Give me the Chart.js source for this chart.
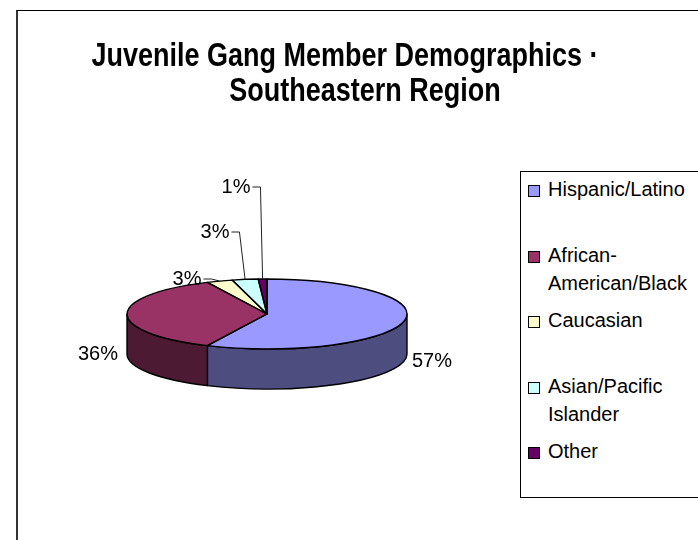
<!DOCTYPE html>
<html>
<head>
<meta charset="utf-8">
<script src="https://cdn.jsdelivr.net/npm/chart.js@4.4.1/dist/chart.umd.min.js"></script>
<style>
  body { margin: 0; background: #fff; font-family: "Liberation Sans", Arial, sans-serif; }
  #wrap { position: relative; width: 698px; height: 540px; overflow: hidden; }
  #frame { position: absolute; left: 16px; top: 10px; width: 800px; height: 600px; border-left: 2px solid #333; border-top: 1px solid #000; }
  canvas { position: absolute; left: 0; top: 0; }
  .title { position: absolute; left: 0; font-weight: bold; font-size: 27px; line-height: 30px; text-align: center; white-space: nowrap; transform: scaleY(1.2); transform-origin: 50% 24px; color: #000; }
  #legend { position: absolute; left: 520px; top: 171px; width: 220px; height: 327px; border: 1px solid #000; background: #fff; padding-top: 3px; box-sizing: border-box; }
  .item { position: relative; height: 65.5px; }
  .swatch { position: absolute; left: 7px; top: 10px; width: 10px; height: 10px; border: 1px solid #000; }
  .text { position: absolute; left: 27px; top: 0; width: 152px; font-size: 20px; line-height: 28px; color: #000; }
</style>
</head>
<body>
<div id="wrap">
  <div id="frame"></div>
  <canvas id="pie" width="698" height="540"></canvas>
  <div class="title" id="t1" style="top:42px; width:690px;"></div>
  <div class="title" id="t2" style="top:77px; width:730px;"></div>
  <div id="legend"></div>
</div>
<script>
const titleLines = ["Juvenile Gang Member Demographics \u00b7", "Southeastern Region"];
const labels = ["Hispanic/Latino", "African-American/Black", "Caucasian", "Asian/Pacific Islander", "Other"];
const shares = [57, 36, 3, 3, 1];
const colors = ["#9999FF", "#993366", "#FFFFCC", "#CCFFFF", "#660066"];

document.getElementById("t1").textContent = titleLines[0];
document.getElementById("t2").textContent = titleLines[1];

// html legend, same look as the excel one
const legendBox = document.getElementById("legend");
labels.forEach((name, i) => {
  const item = document.createElement("div");
  item.className = "item";
  item.innerHTML = '<div class="swatch" style="background:' + colors[i] + '"></div><div class="text"></div>';
  item.querySelector(".text").textContent = name;
  legendBox.appendChild(item);
});

const squash = 0.25;   // ellipse height / width
const depth = 40;      // thickness of the pie
// small slices get their label moved out with a leader line
const leaderSpots = { 2: [187, 279], 3: [215, 232], 4: [236, 187] };

function shade(hex, f) {
  const n = parseInt(hex.slice(1), 16);
  const r = Math.round(((n >> 16) & 255) * f);
  const g = Math.round(((n >> 8) & 255) * f);
  const b = Math.round((n & 255) * f);
  return "rgb(" + r + "," + g + "," + b + ")";
}

const pie3d = {
  id: "pie3d",
  beforeDatasetsDraw(chart) {
    const ctx = chart.ctx;
    const arcs = chart.getDatasetMeta(0).data;
    const cx = arcs[0].x, cy = arcs[0].y;
    const rx = arcs[0].outerRadius, ry = rx * squash;

    ctx.save();
    ctx.lineJoin = "round";
    ctx.strokeStyle = "#000";
    ctx.lineWidth = 1.4;

    // front rim
    arcs.forEach((arc, i) => {
      const a1 = Math.max(arc.startAngle, 0);
      const a2 = Math.min(arc.endAngle, Math.PI);
      if (a2 <= a1) return;
      ctx.beginPath();
      ctx.ellipse(cx, cy, rx, ry, 0, a1, a2);
      ctx.lineTo(cx + rx * Math.cos(a2), cy + depth + ry * Math.sin(a2));
      ctx.ellipse(cx, cy + depth, rx, ry, 0, a2, a1, true);
      ctx.closePath();
      ctx.fillStyle = shade(colors[i], 0.5);
      ctx.fill();
      ctx.stroke();
    });

    // top faces: let chart.js fill its arcs, squashed
    arcs.forEach(arc => {
      ctx.save();
      ctx.translate(cx, cy);
      ctx.scale(1, squash);
      ctx.translate(-cx, -cy);
      arc.draw(ctx);
      ctx.restore();
    });
    arcs.forEach(arc => {
      ctx.beginPath();
      ctx.moveTo(cx, cy);
      ctx.ellipse(cx, cy, rx, ry, 0, arc.startAngle, arc.endAngle);
      ctx.closePath();
      ctx.stroke();
    });

    // percent labels
    ctx.font = '20px "Liberation Sans", Arial, sans-serif';
    ctx.fillStyle = "#000";
    ctx.textAlign = "center";
    ctx.textBaseline = "middle";
    ctx.lineWidth = 1;
    ctx.strokeStyle = "#222";
    arcs.forEach((arc, i) => {
      const m = (arc.startAngle + arc.endAngle) / 2;
      const txt = shares[i] + "%";
      const spot = leaderSpots[i];
      if (spot) {
        const w = ctx.measureText(txt).width;
        const right = spot[0] + w / 2;
        ctx.fillText(txt, spot[0], spot[1]);
        ctx.beginPath();
        ctx.moveTo(right + 2, spot[1]);
        ctx.lineTo(right + 10, spot[1]);
        ctx.lineTo(cx + rx * Math.cos(m), cy + ry * Math.sin(m));
        ctx.stroke();
      } else {
        ctx.fillText(txt, cx + (rx + 29) * Math.cos(m), cy + ry * Math.sin(m) + depth);
      }
    });

    ctx.restore();
    return false;
  }
};

new Chart(document.getElementById("pie"), {
  type: "pie",
  data: {
    labels: labels,
    datasets: [{ data: shares, backgroundColor: colors, borderWidth: 0 }]
  },
  options: {
    responsive: false,
    animation: false,
    events: [],
    layout: { padding: { left: 127, right: 291, top: 174, bottom: 86 } },
    plugins: {
      legend: { display: false },
      title: { display: false },
      tooltip: { enabled: false }
    }
  },
  plugins: [pie3d]
});
</script>
</body>
</html>
